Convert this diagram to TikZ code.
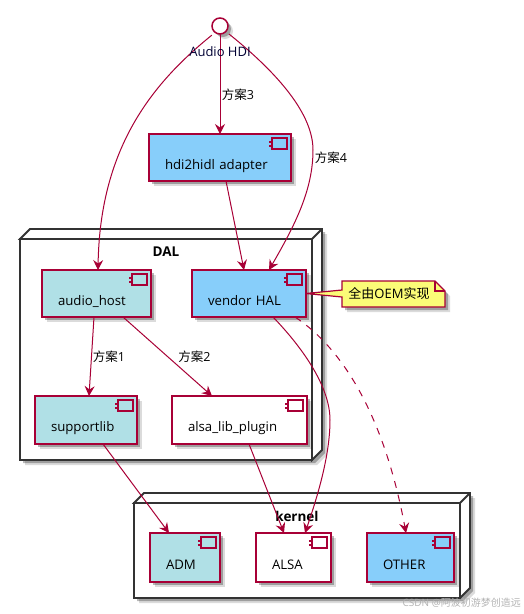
\documentclass[tikz,border=0pt]{standalone}
\usepackage{fontspec}
\setmainfont{Open Sans}
\newfontfamily\cjk{Noto Sans CJK SC}
\usetikzlibrary{arrows.meta,shadows}
\definecolor{LineClr}{HTML}{A80036}
\definecolor{FrameClr}{HTML}{333333}
\definecolor{SkyClr}{HTML}{87CEFA}
\definecolor{PowderClr}{HTML}{B0E0E6}
\definecolor{NoteClr}{HTML}{FBFB77}
\tikzset{
  softshadow/.style={drop shadow={shadow xshift=5pt,shadow yshift=-5pt,opacity=.14,fill=black},
    drop shadow={shadow xshift=3pt,shadow yshift=-3pt,opacity=.28,fill=black}},
  comp/.style={draw=LineClr,line width=1.5pt,softshadow,inner xsep=0pt,inner ysep=0pt,outer sep=0pt,
    anchor=north west,align=left,text height=23pt,text depth=0pt,font=\fontsize{13.2}{16}\selectfont},
  pkg/.style={draw=FrameClr,line width=1.8pt,fill=white,inner sep=0pt,outer sep=0pt,anchor=north west},
  pkgtitle/.style={font=\fontsize{13.5}{16}\selectfont\bfseries,inner sep=0pt},
  conn/.style={draw=LineClr,line width=1pt,-{Stealth[length=10pt,width=10pt,inset=3.5pt]}},
  tag/.style={font=\fontsize{12.5}{15}\selectfont,inner sep=0pt},
}
\newcommand{\PkgBox}[6]{% name, left, top, width, height, title
  \fill[black,opacity=.14] (#2+5,#3+5) -- ++(10,-10) -- ++(#4,0) -- ++(0,#5) -- ++(-10,10) -- ++(-#4,0) -- cycle;
  \fill[black,opacity=.28] (#2+3,#3+3) -- ++(10,-10) -- ++(#4,0) -- ++(0,#5) -- ++(-10,10) -- ++(-#4,0) -- cycle;
  \node[pkg,minimum width=#4pt,minimum height=#5pt] (#1) at (#2,#3) {};
  \draw[draw=FrameClr,line width=1.8pt,fill=white] (#1.north west) -- ++(10,-10) -- ++(#4,0) -- ++(0,#5) -- ++(-10,10)
    -- (#1.north east) -- cycle;
  \draw[draw=FrameClr,line width=1.8pt] (#1.north east) -- ++(10,-10);
  \node[pkgtitle] (#1title) at ([yshift=-13pt]#1.north) {#6};
}
\newcommand{\CompBox}[7]{% name, left, top, width, height, colour, text
  \node[comp,fill=#6,minimum width=#4pt,minimum height=#5pt,text width=#4pt-32pt] (#1) at (#2,#3) {\hspace*{0pt}#7};
  \draw[draw=LineClr,line width=1.5pt,fill=#6] ([shift={(-19pt,-4pt)}]#1.north east) rectangle ([shift={(-4pt,-15pt)}]#1.north east);
  \fill[LineClr] ([shift={(-22pt,-6.5pt)}]#1.north east) rectangle ([shift={(-18.5pt,-9pt)}]#1.north east);
  \fill[LineClr] ([shift={(-22pt,-10.5pt)}]#1.north east) rectangle ([shift={(-18.5pt,-13pt)}]#1.north east);
}
\begin{document}
\begin{tikzpicture}[x=1pt,y=-1pt]
\useasboundingbox (0,0) rectangle (523,614);

% interface
\node[circle,draw=LineClr,line width=1.5pt,fill=white,minimum size=16pt,inner sep=0pt,outer sep=0pt,softshadow] (hdi) at (220,26) {};

% packages
\PkgBox{dal}{20}{239}{292}{221}{DAL}
\PkgBox{kernel}{134}{503}{326}{95}{kernel}

% components
\CompBox{adapter}{149}{134}{142}{47}{SkyClr}{hdi2hidl adapter}
\CompBox{audiohost}{42}{270}{109}{47}{PowderClr}{audio\_host}
\CompBox{vendor}{192}{270}{114}{47}{SkyClr}{vendor HAL}
\CompBox{supportlib}{35}{396}{102}{48}{PowderClr}{supportlib}
\CompBox{plugin}{172}{396}{135}{48}{white}{alsa\_lib\_plugin}
\CompBox{adm}{150}{533}{70}{49}{PowderClr}{ADM}
\CompBox{alsa}{256}{533}{75}{49}{white}{ALSA}
\CompBox{other}{367}{533}{87}{49}{SkyClr}{OTHER}

% connectors
\draw[conn] (hdi.south) -- (adapter.north);
\draw[conn] ([shift={(-2.5pt,-3.5pt)}]hdi.south west) .. controls (150,85) and (100,150) .. ([xshift=1.5pt]audiohost.north);
\draw[conn] ([shift={(3.3pt,-2.3pt)}]hdi.south east) .. controls (280,75) and (313,115) .. (313,150)
  .. controls (313,190) and (295,225) .. ([xshift=20pt]vendor.north);
\draw[conn] ([xshift=6pt]adapter.south) -- ([xshift=-5pt]vendor.north);
\draw[conn] ([xshift=-2.5pt]audiohost.south) -- ([xshift=3pt]supportlib.north);
\draw[conn] ([xshift=26.5pt]audiohost.south) -- ([xshift=-27.5pt]plugin.north);
\draw[conn] ([xshift=24pt]vendor.south) .. controls (300,345) and (330,385) .. (330,420)
  .. controls (330,455) and (318,495) .. ([xshift=11.5pt]alsa.north);
\draw[conn,dash pattern=on 7pt off 7pt] ([xshift=46pt]vendor.south) .. controls (345,350) and (385,420) .. ([xshift=-4.5pt]other.north);
\draw[conn] ([xshift=17pt]supportlib.south) -- ([xshift=-16pt]adm.north);
\draw[conn] ([xshift=9.5pt]plugin.south) -- ([xshift=-9.5pt]alsa.north);

% labels
\node[tag,font=\fontsize{13}{15}\selectfont,text=black!80!blue] (hdilabel) at (220,52) {Audio HDI};
\node[tag] (plan3) at (238,95) {{\cjk 方案}3};
\node[tag] (plan4) at (331,158) {{\cjk 方案}4};
\node[tag] (plan1) at (109,357) {{\cjk 方案}1};
\node[tag] (plan2) at (194.5,357) {{\cjk 方案}2};

% note
\fill[black,opacity=.14] (347,286) -- (440,286) -- (450,296) -- (450,312) -- (347,312) -- cycle;
\fill[black,opacity=.28] (345,284) -- (438,284) -- (448,294) -- (448,310) -- (345,310) -- cycle;
\draw[draw=LineClr,line width=1.2pt,fill=NoteClr] (342,281) -- (435,281) -- (445,291) -- (445,307) -- (342,307) -- (342,297)
  -- (vendor.east) -- (342,290) -- cycle;
\draw[draw=LineClr,line width=1.2pt] (435,281) -- (435,291) -- (445,291);
\node[tag,font=\fontsize{13}{15}\selectfont] (oem) at (389,294) {{\cjk 全由}OEM{\cjk 实现}};

% watermark
\node[tag,font=\fontsize{10}{12}\selectfont,text=black!30,anchor=east] (mark) at (521,603) {CSDN @{\cjk 阿波初游梦创造远}};
\end{tikzpicture}
\end{document}
